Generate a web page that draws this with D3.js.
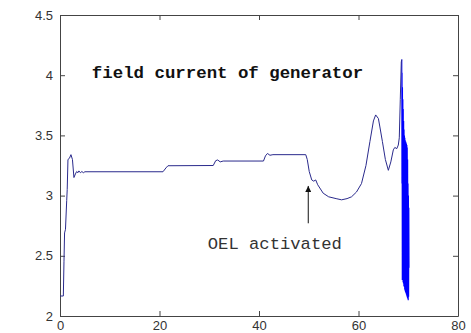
<!DOCTYPE html>
<html>
<head>
<meta charset="utf-8">
<script src="https://cdn.jsdelivr.net/npm/d3@7"></script>
<style>
  body { margin: 0; background: #fff; }
  svg { display: block; }
  .axis text { font-family: "Liberation Sans", Arial, sans-serif; font-size: 13px; fill: #333; }
  .axis path, .axis line { stroke: #444; }
</style>
</head>
<body>
<div class="chart-container"></div>
<script>
const totalWidth = 471;
const totalHeight = 333;
const margin = {top: 15, right: 13, bottom: 17, left: 60};
const chartWidth = totalWidth - margin.left - margin.right;
const chartHeight = totalHeight - margin.top - margin.bottom;

// field current trace (time s, value)
const timeVals = [0, 0.67, 0.8, 0.92, 1.1, 1.35, 1.45, 1.6, 1.9, 2.2, 2.5, 2.8, 3.1, 3.35, 3.6, 3.8, 4.1, 4.4, 4.7, 5.0,
  20.7, 21.3, 21.7, 30.8, 31.3, 31.7, 32.2, 32.8, 40.9, 41.3, 41.7, 42.2, 42.8, 49.4, 49.7, 50.1, 50.6, 51.0, 51.4, 51.8,
  52.9, 54.0, 55.5, 56.6, 57.7, 58.6, 59.6, 60.6, 61.5, 62.3, 63.0, 63.45, 64.0, 64.3, 64.8, 65.4, 66.0, 66.5, 67.0, 67.3,
  67.7, 68.0, 68.2, 68.4, 68.6, 68.7];
const currentVals = [2.166, 2.166, 2.45, 2.69, 2.72, 2.96, 3.05, 3.30, 3.31, 3.34, 3.30, 3.15, 3.18, 3.20, 3.19, 3.205, 3.19, 3.20, 3.19, 3.198,
  3.198, 3.23, 3.248, 3.25, 3.29, 3.296, 3.28, 3.287, 3.287, 3.33, 3.35, 3.335, 3.34, 3.34, 3.30, 3.20, 3.13, 3.12, 3.13, 3.09,
  3.02, 2.99, 2.975, 2.965, 2.975, 2.99, 3.03, 3.10, 3.25, 3.45, 3.62, 3.67, 3.64, 3.57, 3.45, 3.30, 3.21, 3.28, 3.38, 3.40,
  3.39, 3.42, 3.48, 3.80, 4.11, 4.13];

// fast oscillation at the end of the run
const oscTime = [68.70, 68.73, 68.76, 68.80, 68.84, 68.88, 68.92, 68.96, 69.00, 69.04, 69.08, 69.12, 69.16, 69.20, 69.24,
  69.28, 69.32, 69.36, 69.40, 69.44, 69.48, 69.52, 69.56, 69.60, 69.64, 69.68, 69.72, 69.76, 69.80, 69.84, 69.88, 69.92,
  69.96, 70.00, 70.04, 70.08, 70.12, 70.16];
const oscVals = [4.13, 3.10, 4.02, 2.30, 3.90, 2.30, 3.80, 2.28, 3.72, 2.27, 3.62, 2.25, 3.55,
  2.24, 3.50, 2.22, 3.48, 2.21, 3.46, 2.20, 3.45, 2.19, 3.44, 2.18, 3.43, 2.17, 3.42, 2.16,
  3.40, 2.15, 3.30, 2.14, 3.10, 2.13, 3.00, 2.16, 2.90, 2.40];

const xTicks = [0, 20, 40, 60, 80];
const yTicks = [2, 2.5, 3, 3.5, 4, 4.5];

const svg = d3.select("body")
    .select('.chart-container')
    .append("svg")
    .attr('width', totalWidth)
    .attr('height', totalHeight);

const chart = svg.append('g').attr('transform', `translate(${margin.left},${margin.top})`);

const scaleX = d3.scaleLinear().domain([0, 80]).range([0, chartWidth]);
const scaleY = d3.scaleLinear().domain([2, 4.5]).range([chartHeight, 0]);

// axes with inward ticks, matlab style box
chart.append('g').attr('class', 'axis')
    .attr('transform', `translate(0,${chartHeight})`)
    .call(d3.axisBottom(scaleX).tickValues(xTicks).tickSizeInner(-5).tickSizeOuter(0).tickPadding(5));
chart.append('g').attr('class', 'axis')
    .call(d3.axisTop(scaleX).tickValues(xTicks).tickSizeInner(-5).tickSizeOuter(0).tickFormat(''));
chart.append('g').attr('class', 'axis')
    .call(d3.axisLeft(scaleY).tickValues(yTicks).tickSizeInner(-5).tickSizeOuter(0).tickPadding(7).tickFormat(d => String(d)));
chart.append('g').attr('class', 'axis')
    .attr('transform', `translate(${chartWidth},0)`)
    .call(d3.axisRight(scaleY).tickValues(yTicks).tickSizeInner(-5).tickSizeOuter(0).tickFormat(''));

const line = d3.line()
    .x(d => scaleX(d[0]))
    .y(d => scaleY(d[1]));

chart.append('path')
    .datum(d3.zip(oscTime, oscVals))
    .attr('fill', 'none')
    .attr('stroke', '#0000ff')
    .attr('stroke-width', 1.1)
    .attr('d', line);

chart.append('path')
    .datum(d3.zip(timeVals, currentVals))
    .attr('fill', 'none')
    .attr('stroke', '#2a2a8c')
    .attr('stroke-width', 1)
    .attr('d', line);

chart.append('text')
    .attr('x', scaleX(6.4))
    .attr('y', scaleY(3.98))
    .attr('font-family', '"Liberation Mono", "Courier New", monospace')
    .attr('font-weight', 'bold')
    .attr('font-size', 17.4)
    .attr('fill', '#111')
    .text('field current of generator');

// arrow marking OEL activation
svg.append('defs').append('marker')
    .attr('id', 'head')
    .attr('viewBox', '0 0 10 10')
    .attr('refX', 10).attr('refY', 5)
    .attr('markerWidth', 6).attr('markerHeight', 6)
    .attr('markerUnits', 'userSpaceOnUse')
    .attr('orient', 'auto')
    .append('path').attr('d', 'M0,0L10,5L0,10z').attr('fill', '#111');

chart.append('line')
    .attr('x1', scaleX(49.9)).attr('x2', scaleX(49.9))
    .attr('y1', scaleY(2.77)).attr('y2', scaleY(3.08))
    .attr('stroke', '#111')
    .attr('stroke-width', 1)
    .attr('marker-end', 'url(#head)');

chart.append('text')
    .attr('x', scaleX(29.7))
    .attr('y', scaleY(2.56))
    .attr('font-family', '"Liberation Mono", "Courier New", monospace')
    .attr('font-size', 17.2)
    .attr('fill', '#333')
    .text('OEL activated');
</script>
</body>
</html>
